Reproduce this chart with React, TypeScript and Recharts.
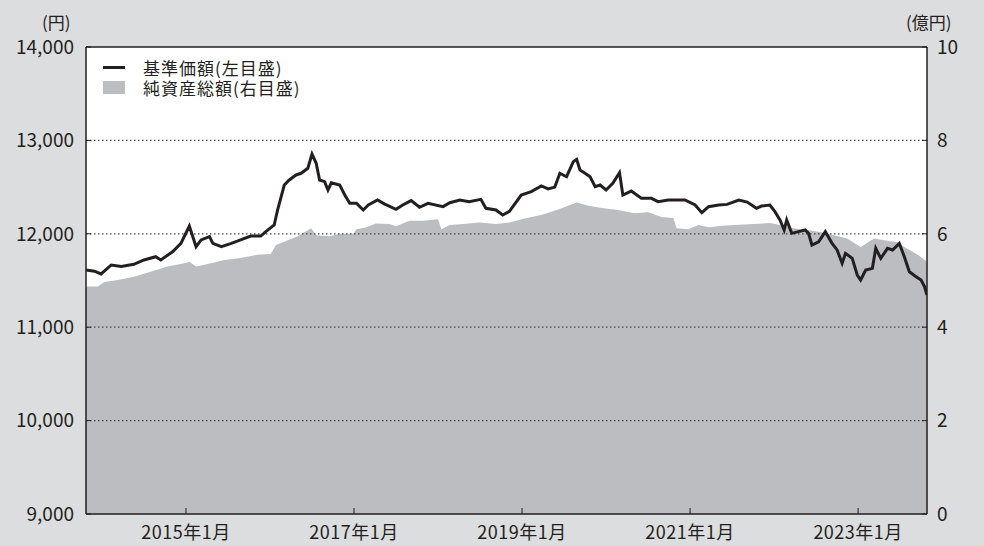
import {
  ComposedChart,
  Area,
  Line,
  XAxis,
  YAxis,
  CartesianGrid,
  ReferenceLine,
} from 'recharts';

// 基準価額 (円) — 読み取り値、時点は年の小数表記
const priceTimes = [
  2013.81, 2013.91, 2013.99, 2014.11, 2014.23, 2014.38, 2014.5, 2014.64, 2014.7, 2014.84, 2014.94,
  2015.04, 2015.12, 2015.18, 2015.28, 2015.32, 2015.42, 2015.54, 2015.65, 2015.77, 2015.89, 2015.95,
  2016.05, 2016.09, 2016.17, 2016.23, 2016.31, 2016.37, 2016.45, 2016.5, 2016.55, 2016.59, 2016.65,
  2016.69, 2016.73, 2016.83, 2016.89, 2016.95, 2017.03, 2017.11, 2017.17, 2017.28, 2017.36, 2017.5,
  2017.58, 2017.68, 2017.78, 2017.88, 2018.06, 2018.14, 2018.26, 2018.37, 2018.51, 2018.57, 2018.69,
  2018.77, 2018.85, 2018.99, 2019.11, 2019.23, 2019.31, 2019.39, 2019.45, 2019.53, 2019.61, 2019.65,
  2019.69, 2019.75, 2019.81, 2019.87, 2019.93, 2020.0, 2020.08, 2020.16, 2020.2, 2020.3, 2020.42,
  2020.54, 2020.62, 2020.74, 2020.94, 2021.06, 2021.14, 2021.22, 2021.34, 2021.44, 2021.58, 2021.68,
  2021.79, 2021.85, 2021.95, 2022.01, 2022.07, 2022.12, 2022.15, 2022.21, 2022.29, 2022.37, 2022.41,
  2022.45, 2022.53, 2022.61, 2022.69, 2022.75, 2022.81, 2022.85, 2022.93, 2022.99, 2023.03, 2023.09,
  2023.17, 2023.21, 2023.27, 2023.35, 2023.41, 2023.49, 2023.55, 2023.61, 2023.69, 2023.75, 2023.79,
  2023.82,
];
const priceValues = [
  11612, 11600, 11570, 11666, 11650, 11673, 11720, 11755, 11720, 11808, 11898,
  12083, 11862, 11934, 11970, 11898, 11862, 11898, 11934, 11976, 11976, 12024,
  12094, 12254, 12522, 12576, 12630, 12648, 12701, 12854, 12755, 12576, 12558,
  12469, 12547, 12522, 12415, 12326, 12326, 12255, 12308, 12362, 12320, 12262,
  12308, 12355, 12284, 12326, 12291, 12333, 12362, 12344, 12369, 12273, 12255,
  12201, 12240, 12415, 12451, 12512, 12480, 12500, 12648, 12611, 12772, 12797,
  12683, 12648, 12611, 12504, 12522, 12469, 12540, 12655, 12415, 12458, 12380,
  12380, 12344, 12362, 12362, 12308, 12226, 12290, 12308, 12315, 12362, 12340,
  12273, 12297, 12308, 12237, 12148, 12041, 12148, 12005, 12023, 12041, 12005,
  11880, 11915, 12023, 11898, 11827, 11684, 11791, 11737, 11559, 11505, 11612,
  11630, 11844, 11737, 11844, 11827, 11898, 11755, 11594, 11541, 11505, 11434,
  11345,
];

// 純資産総額 (億円)
const assetTimes = [
  2013.81, 2013.95, 2014.03, 2014.19, 2014.38, 2014.58, 2014.78, 2014.98, 2015.04, 2015.12, 2015.3,
  2015.46, 2015.65, 2015.85, 2016.01, 2016.07, 2016.17, 2016.33, 2016.49, 2016.55, 2016.71, 2016.83,
  2016.99, 2017.03, 2017.15, 2017.26, 2017.42, 2017.5, 2017.66, 2017.82, 2018.0, 2018.04, 2018.14,
  2018.3, 2018.49, 2018.69, 2018.85, 2019.03, 2019.23, 2019.43, 2019.65, 2019.79, 2019.95, 2020.14,
  2020.34, 2020.5, 2020.66, 2020.8, 2020.84, 2020.98, 2021.1, 2021.22, 2021.38, 2021.52, 2021.76,
  2021.95, 2022.07, 2022.23, 2022.39, 2022.55, 2022.71, 2022.87, 2023.03, 2023.19, 2023.31, 2023.47,
  2023.55, 2023.71, 2023.82,
];
const assetValues = [
  4.87, 4.87, 4.97, 5.01, 5.08, 5.19, 5.3, 5.37, 5.4, 5.3, 5.37,
  5.44, 5.48, 5.55, 5.57, 5.76, 5.83, 5.95, 6.12, 5.97, 5.95, 6.0,
  6.0, 6.1, 6.14, 6.22, 6.21, 6.16, 6.28, 6.28, 6.31, 6.1, 6.19,
  6.21, 6.24, 6.21, 6.24, 6.33, 6.4, 6.52, 6.67, 6.6, 6.55, 6.51,
  6.44, 6.46, 6.36, 6.34, 6.12, 6.1, 6.19, 6.14, 6.17, 6.19, 6.21,
  6.23, 6.19, 6.12, 6.08, 6.04, 5.97, 5.9, 5.72, 5.9, 5.86, 5.82,
  5.72, 5.55, 5.4,
];

const xTicks = [2015, 2017, 2019, 2021, 2023];
const leftTicks = [9000, 10000, 11000, 12000, 13000, 14000];
const rightTicks = [0, 2, 4, 6, 8, 10];
const gridValues = [10000, 11000, 12000, 13000];

const priceData = priceTimes.map((t, i) => ({ t, price: priceValues[i] }));
const assetData = assetTimes.map((t, i) => ({ t, asset: assetValues[i] }));

const FONT = "'Noto Sans CJK JP', 'Noto Sans', sans-serif";
const INK = '#231f20';
const BG = '#dcdddf';
const AREA = '#bcbdc0';

function LegendBox() {
  const row = { display: 'flex', alignItems: 'center', height: 20, whiteSpace: 'nowrap' } as const;
  return (
    <div style={{ position: 'absolute', left: 103, top: 57, fontFamily: FONT, fontSize: 17, letterSpacing: 1, color: INK, lineHeight: '17px' }}>
      <div style={row}>
        <span style={{ display: 'inline-block', width: 22, height: 3, background: INK, marginRight: 18 }} />
        基準価額(左目盛)
      </div>
      <div style={row}>
        <span style={{ display: 'inline-block', width: 22, height: 13, background: AREA, marginRight: 18 }} />
        純資産総額(右目盛)
      </div>
    </div>
  );
}

export default function App() {
  const tickStyle = { fontSize: 19, fill: INK, fontFamily: FONT };
  const unit = { position: 'absolute', top: 13, fontFamily: FONT, fontSize: 17, lineHeight: '17px', color: INK } as const;
  return (
    <div style={{ position: 'absolute', left: 0, top: 0, width: 984, height: 546, background: BG, overflow: 'hidden' }}>
      <ComposedChart width={984} height={546} margin={{ top: 47, right: 7, bottom: 2, left: 6 }}>
        <CartesianGrid fill="#ffffff" horizontal={false} vertical={false} />
        <XAxis
          xAxisId="x"
          type="number"
          dataKey="t"
          domain={[2013.81, 2023.82]}
          ticks={xTicks}
          allowDataOverflow
          height={30}
          tickSize={-6}
          tickMargin={18}
          tick={{ ...tickStyle, fontSize: 18, letterSpacing: 0.5 }}
          tickFormatter={(v: number) => `${v}年1月`}
          axisLine={{ stroke: INK, strokeWidth: 1.5 }}
          tickLine={{ stroke: INK }}
        />
        <YAxis
          yAxisId="left"
          orientation="left"
          domain={[9000, 14000]}
          ticks={leftTicks}
          width={80}
          tickSize={-5}
          tickMargin={17}
          tick={tickStyle}
          tickFormatter={(v: number) => v.toLocaleString('en-US')}
          axisLine={{ stroke: INK, strokeWidth: 1.5 }}
          tickLine={{ stroke: INK }}
        />
        <YAxis
          yAxisId="right"
          orientation="right"
          domain={[0, 10]}
          ticks={rightTicks}
          width={50}
          tickSize={-5}
          tickMargin={15}
          tick={{ ...tickStyle, textAnchor: 'start' }}
          axisLine={{ stroke: INK, strokeWidth: 1.5 }}
          tickLine={{ stroke: INK }}
        />
        <Area
          xAxisId="x"
          yAxisId="right"
          data={assetData}
          dataKey="asset"
          type="linear"
          stroke="none"
          fill={AREA}
          fillOpacity={1}
          isAnimationActive={false}
        />
        {gridValues.map((v) => (
          <ReferenceLine key={v} xAxisId="x" yAxisId="left" y={v} stroke="#444" strokeWidth={1.2} strokeDasharray="1.5 2.5" />
        ))}
        <ReferenceLine xAxisId="x" yAxisId="left" y={14000} stroke={INK} strokeWidth={1.5} />
        <Line
          xAxisId="x"
          yAxisId="left"
          data={priceData}
          dataKey="price"
          type="linear"
          stroke={INK}
          strokeWidth={3}
          dot={false}
          isAnimationActive={false}
        />
      </ComposedChart>
      <div style={{ ...unit, left: 42 }}>(円)</div>
      <div style={{ ...unit, left: 906 }}>(億円)</div>
      <LegendBox />
    </div>
  );
}
